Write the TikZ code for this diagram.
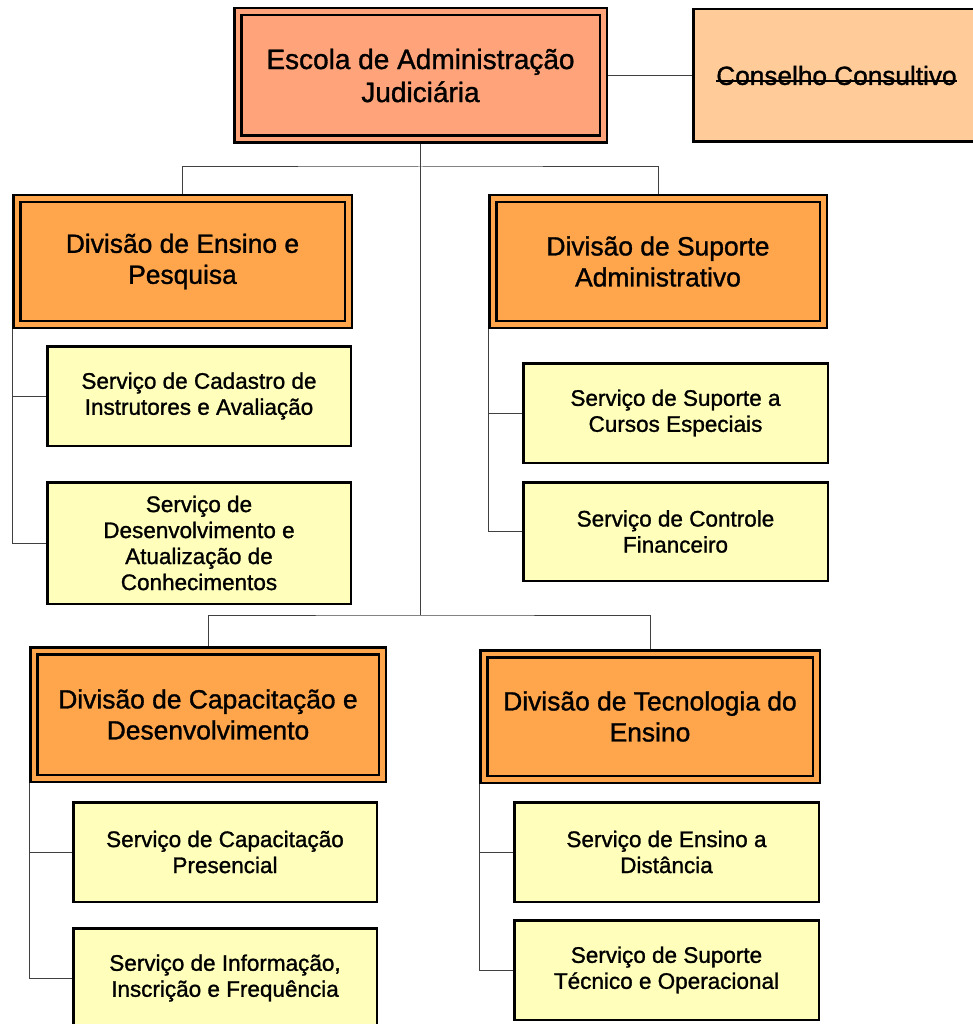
\documentclass[tikz,border=0pt]{standalone}
\usepackage{fontspec}
\setmainfont{Liberation Sans}[FakeBold=1.2]
\newcommand{\riscado}[1]{\setbox0\hbox{#1}\rlap{\rule[0.12em]{\wd0}{1.8pt}}\box0}
\definecolor{escolacor}{RGB}{255,164,122}
\definecolor{divcor}{RGB}{255,166,77}
\definecolor{conscor}{RGB}{255,204,153}
\definecolor{servcor}{RGB}{255,255,187}

\begin{document}
\begin{tikzpicture}[x=1pt,y=-1pt,
    dbox/.style={draw=black,fill=#1,double=#1,double distance=4.5pt,line width=2.5pt,
      outer sep=4.75pt,inner sep=0pt,align=center},
    divbox/.style={dbox=divcor,font=\fontsize{26.4}{31}\selectfont},
    sbox/.style={draw=black,fill=servcor,line width=2.5pt,inner sep=0pt,align=center,
      font=\fontsize{22.5}{26}\selectfont},
    liga/.style={draw=black!75,line width=1pt}]
  \clip (0,0) rectangle (973,1024);
      \node[dbox=escolacor,minimum width=365.5pt,minimum height=127.5pt,font=\fontsize{28}{33}\selectfont] (escola) at (420.5,75.5) {Escola de Administração\\Judiciária};
      \node[draw=black,fill=conscor,line width=2.5pt,minimum width=286.5pt,minimum height=132.5pt,font=\fontsize{26.2}{31}\selectfont] (conselho) at (836.5,75.5) {\riscado{Conselho Consultivo}};
      \node[divbox,minimum width=331.5pt,minimum height=125.5pt] (div1) at (182.5,261.5) {Divisão de Ensino e\\Pesquisa};
      \node[divbox,minimum width=330.5pt,minimum height=125.5pt] (div2) at (658,261.5) {Divisão de Suporte\\Administrativo};
      \node[divbox,minimum width=348.5pt,minimum height=127.5pt] (div3) at (208,714.5) {Divisão de Capacitação e\\Desenvolvimento};
      \node[divbox,minimum width=332.5pt,minimum height=125.5pt] (div4) at (650,716.5) {Divisão de Tecnologia do\\Ensino};
      \node[sbox,minimum width=303.5pt,minimum height=99.5pt] (s1) at (199,396) {Serviço de Cadastro de\\Instrutores e Avaliação};
      \node[sbox,minimum width=303.5pt,minimum height=121.5pt] (s2) at (199,543) {Serviço de\\Desenvolvimento e\\Atualização de\\Conhecimentos};
      \node[sbox,minimum width=304.5pt,minimum height=99.5pt] (s3) at (675.5,413) {Serviço de Suporte a\\Cursos Especiais};
      \node[sbox,minimum width=304.5pt,minimum height=98.5pt] (s4) at (675.5,531.5) {Serviço de Controle\\Financeiro};
      \node[sbox,minimum width=303.5pt,minimum height=99.5pt] (s5) at (225,852) {Serviço de Capacitação\\Presencial};
      \node[sbox,minimum width=303.5pt,minimum height=99.5pt] (s6) at (225,978) {Serviço de Informação,\\Inscrição e Frequência};
      \node[sbox,minimum width=304.5pt,minimum height=99.5pt] (s7) at (666.5,852) {Serviço de Ensino a\\Distância};
      \node[sbox,minimum width=304.5pt,minimum height=99.5pt] (s8) at (666.5,970) {Serviço de Suporte\\Técnico e Operacional};
      \coordinate (ramo1) at (420.5,167);
      \coordinate (ramo2) at (420.5,615);
    \draw[liga] (escola.east) -- (conselho.west);
    \draw[liga] (escola.south) -- (ramo2);
    \draw[liga] (div1.north) |- (ramo1) -| (div2.north);
    \draw[liga] (div3.north) |- (ramo2) -| (div4.north);
    \draw[liga] (div1.south west) |- (s1.west);
    \draw[liga] (div1.south west) |- (s2.west);
    \draw[liga] (div2.south west) |- (s3.west);
    \draw[liga] (div2.south west) |- (s4.west);
    \draw[liga] (div3.south west) |- (s5.west);
    \draw[liga] (div3.south west) |- (s6.west);
    \draw[liga] (div4.south west) |- (s7.west);
    \draw[liga] (div4.south west) |- (s8.west);
    \end{tikzpicture}
\end{document}
